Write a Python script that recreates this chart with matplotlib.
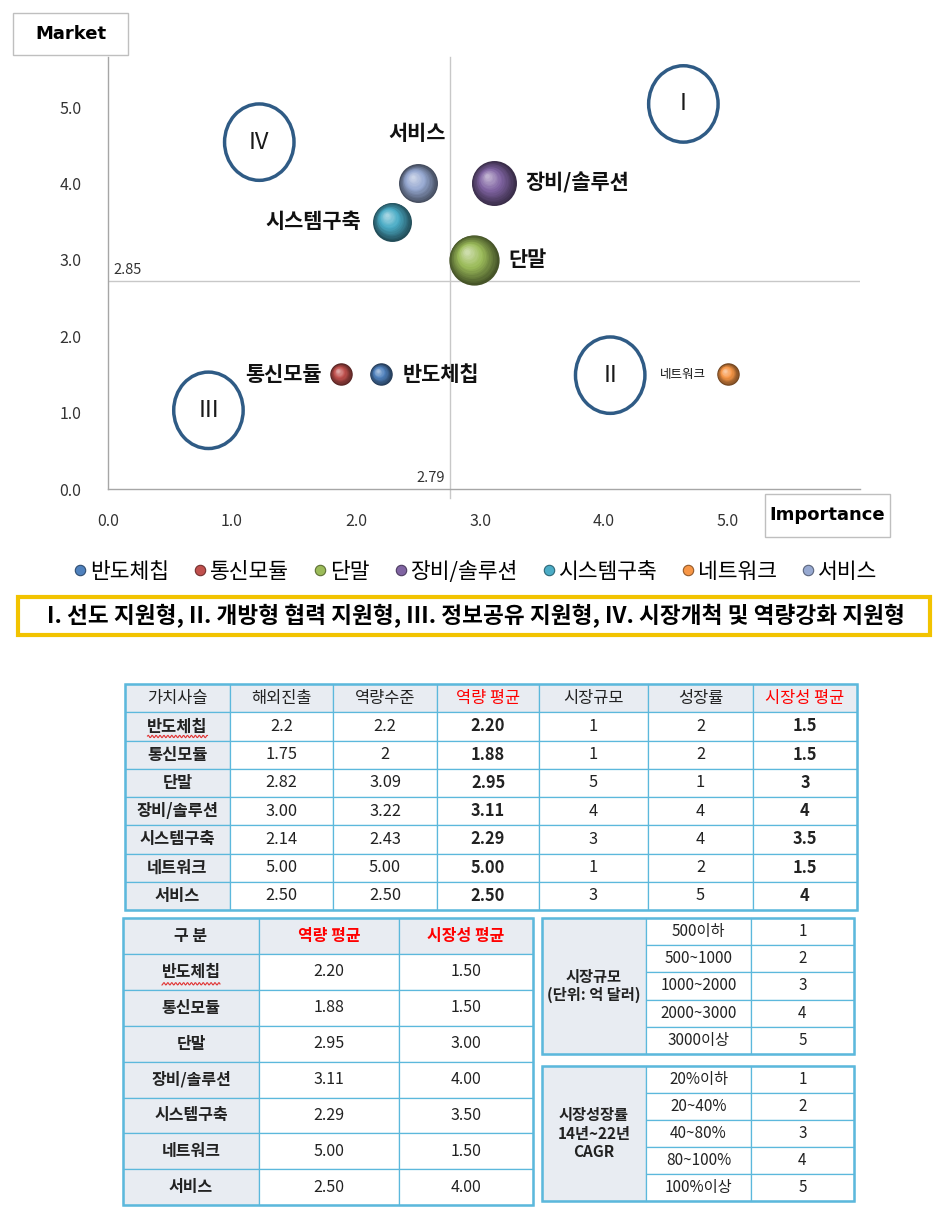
import numpy as np
import matplotlib
matplotlib.use('Agg')
import matplotlib.pyplot as plt
from matplotlib.patches import Ellipse, Rectangle
from matplotlib.lines import Line2D
from matplotlib.colors import to_rgb
from matplotlib.transforms import offset_copy

plt.rcParams['font.family'] = ['Noto Sans CJK KR', 'DejaVu Sans']

# 데이터 (표에서 읽은 값)
chains = ['반도체칩', '통신모듈', '단말', '장비/솔루션', '시스템구축', '네트워크', '서비스']
overseas = ['2.2', '1.75', '2.82', '3.00', '2.14', '5.00', '2.50']
capability = ['2.2', '2', '3.09', '3.22', '2.43', '5.00', '2.50']
cap_avg = [2.20, 1.88, 2.95, 3.11, 2.29, 5.00, 2.50]
market_size = [1, 1, 5, 4, 3, 1, 3]
growth = [2, 2, 1, 4, 4, 2, 5]
mkt_avg = [1.5, 1.5, 3, 4, 3.5, 1.5, 4]

table1_header = ['가치사슬', '해외진출', '역량수준', '역량 평균', '시장규모', '성장률', '시장성 평균']
table2_header = ['구 분', '역량 평균', '시장성 평균']

size_ranges = ['500이하', '500~1000', '1000~2000', '2000~3000', '3000이상']
growth_ranges = ['20%이하', '20~40%', '40~80%', '80~100%', '100%이상']
scores = [1, 2, 3, 4, 5]

# 사분면 구분선 (그림에서 읽은 위치와 표시값)
h_line, h_label = 2.72, '2.85'
v_line, v_label = 2.76, '2.79'

quadrants = ['I', 'II', 'III', 'IV']
quad_x = [4.64, 4.05, 0.81, 1.22]
quad_y = [5.04, 1.49, 1.03, 4.54]

colors = ['#4F81BD', '#C0504D', '#9BBB59', '#8064A2', '#4BACC6', '#F79646', '#97A9D1']

fig = plt.figure(figsize=(9.4, 12.19), dpi=100)
fig.patch.set_facecolor('white')

# 버블 차트
ax = fig.add_axes([108 / 940, 1 - 489 / 1219, 752 / 940, 432 / 1219])
ax.set_xlim(0, 752 / 124)
ax.set_ylim(0, 432 / 76.4)
for s in ['top', 'right']:
    ax.spines[s].set_visible(False)
for s in ['left', 'bottom']:
    ax.spines[s].set_color('#A6A6A6')
    ax.spines[s].set_linewidth(1)
ax.set_xticks(range(6))
ax.set_yticks(range(6))
ax.set_xticklabels(['%.1f' % v for v in range(6)])
ax.set_yticklabels(['%.1f' % v for v in range(6)])
ax.tick_params(length=0, labelsize=11.5, labelcolor='#333333')
ax.tick_params(axis='x', pad=17)
ax.tick_params(axis='y', pad=19)

ax.axhline(h_line, color='#C8C8C8', lw=1, zorder=1)
ax.axvline(v_line, ymin=-0.02, ymax=1, color='#C8C8C8', lw=1, zorder=1, clip_on=False)
ax.text(0.04, h_line + 0.06, h_label, fontsize=10.5, color='#333333', va='bottom', ha='left')
ax.text(v_line - 0.04, 0.05, v_label, fontsize=10.5, color='#333333', va='bottom', ha='right')

# 사분면 원
for q, qx, qy in zip(quadrants, quad_x, quad_y):
    ax.add_patch(Ellipse((qx, qy), 0.56, 1.0, facecolor='none', edgecolor='#2F5B85', lw=2.5, zorder=2))
    ax.text(qx, qy, q, ha='center', va='center', fontsize=17, color='#1a1a1a')


# 구 모양 버블 (그라데이션)
def sphere(ax, x, y, size, color):
    base = np.array(to_rgb(color))
    n = 16
    r_pt = np.sqrt(size) / 2
    for k in range(n):
        t = k / (n - 1)
        s = size * (1 - 0.9 * t) ** 2
        dx = -0.28 * r_pt * t
        dy = 0.32 * r_pt * t
        if t < 0.55:
            c = base * (0.45 + t)
        else:
            c = base + (1 - base) * (t - 0.55) * 1.1
        c = np.clip(c, 0, 1)
        tr = offset_copy(ax.transData, fig=ax.figure, x=dx, y=dy, units='points')
        ax.scatter([x], [y], s=s, color=[c], lw=0, transform=tr, zorder=3 + k * 0.01)


bubble_scale = 262
for i, name in enumerate(chains):
    sphere(ax, cap_avg[i], mkt_avg[i], market_size[i] * bubble_scale, colors[i])

label_pos = {
    '반도체칩': (16, 0, 'left', 'bold', 15),
    '통신모듈': (-14, 0, 'right', 'bold', 15),
    '단말': (25, 0, 'left', 'bold', 15),
    '장비/솔루션': (23, 0, 'left', 'bold', 15),
    '시스템구축': (-22, 0, 'right', 'bold', 15),
    '네트워크': (-16, 0, 'right', 'normal', 9),
    '서비스': (-1, 36, 'center', 'bold', 15),
}
for i, name in enumerate(chains):
    dx, dy, ha, fw, fs = label_pos[name]
    ax.annotate(name, (cap_avg[i], mkt_avg[i]), xytext=(dx, dy), textcoords='offset points',
                ha=ha, va='center', fontsize=fs, fontweight=fw, color='#111111', zorder=5)

# 범례
handles = [Line2D([], [], marker='o', ls='', markersize=7.5, markerfacecolor=c,
                  markeredgecolor=np.array(to_rgb(c)) * 0.6, markeredgewidth=0.8) for c in colors]
fig.legend(handles, chains, loc='center', bbox_to_anchor=(474 / 940, 1 - 572 / 1219), ncol=7,
           frameon=False, fontsize=15.5, handletextpad=0.0, columnspacing=1.0, handlelength=0.9)

# 전체 픽셀 좌표 오버레이
ov = fig.add_axes([0, 0, 1, 1])
ov.set_xlim(0, 940)
ov.set_ylim(1219, 0)
ov.axis('off')
ov.patch.set_visible(False)

# 축 제목 상자
ov.add_patch(Rectangle((13, 13), 115, 42, facecolor='white', edgecolor='#BFBFBF', lw=1))
ov.text(70.5, 34, 'Market', ha='center', va='center', fontsize=13, fontweight='bold', family='DejaVu Sans')
ov.add_patch(Rectangle((765, 494), 125, 43, facecolor='white', edgecolor='#BFBFBF', lw=1))
ov.text(827.5, 515.5, 'Importance', ha='center', va='center', fontsize=13, fontweight='bold', family='DejaVu Sans')

# 노란 상자
ov.add_patch(Rectangle((18, 597), 912, 38, facecolor='white', edgecolor='#F2C300', lw=3))
ov.text(476, 616, 'I. 선도 지원형, II. 개방형 협력 지원형, III. 정보공유 지원형, IV. 시장개척 및 역량강화 지원형',
        ha='center', va='center', fontsize=16.3, fontweight='bold')

grid_c = '#5CB8DC'
head_bg = '#E8ECF2'


def cell(x, y, w, h, text, bg='white', color='#222222', bold=False, size=10.5):
    ov.add_patch(Rectangle((x, y), w, h, facecolor=bg, edgecolor=grid_c, lw=0.9))
    if text != '':
        ov.text(x + w / 2, y + h / 2, text, ha='center', va='center', fontsize=size,
                color=color, fontweight='bold' if bold else 'normal')


def squiggle(xc, y, half):
    # 맞춤법 검사 빨간 물결선
    xs = np.linspace(xc - half, xc + half, 80)
    ov.plot(xs, y + 1.2 * np.sin(xs * 1.6), color='#E03030', lw=0.8)


# 표 1
t1_cols = [125, 230, 333, 437, 539, 648, 753, 857]
t1_top, t1_rh = 684, 28.25
for j, hd in enumerate(table1_header):
    red = hd in ('역량 평균', '시장성 평균')
    cell(t1_cols[j], t1_top, t1_cols[j + 1] - t1_cols[j], t1_rh, hd, bg=head_bg,
         color='#FF0000' if red else '#222222', size=11.8)
for i, name in enumerate(chains):
    y = t1_top + t1_rh * (i + 1)
    row = [name, overseas[i], capability[i], '%.2f' % cap_avg[i], str(market_size[i]),
           str(growth[i]), '%g' % mkt_avg[i]]
    for j, v in enumerate(row):
        bold = j in (0, 3, 6)
        cell(t1_cols[j], y, t1_cols[j + 1] - t1_cols[j], t1_rh, v,
             bg=head_bg if j == 0 else 'white', bold=bold, size=11.8)
squiggle((t1_cols[0] + t1_cols[1]) / 2, t1_top + t1_rh * 2 - 4, 30)
ov.add_patch(Rectangle((t1_cols[0], t1_top), t1_cols[-1] - t1_cols[0], t1_rh * 8,
                       facecolor='none', edgecolor=grid_c, lw=1.8))

# 표 2
t2_cols = [123, 259, 399, 533]
t2_top, t2_rh = 918, 35.9
for j, hd in enumerate(table2_header):
    cell(t2_cols[j], t2_top, t2_cols[j + 1] - t2_cols[j], t2_rh, hd, bg=head_bg,
         color='#FF0000' if j > 0 else '#222222', bold=True, size=11.5)
for i, name in enumerate(chains):
    y = t2_top + t2_rh * (i + 1)
    row = [name, '%.2f' % cap_avg[i], '%.2f' % mkt_avg[i]]
    for j, v in enumerate(row):
        cell(t2_cols[j], y, t2_cols[j + 1] - t2_cols[j], t2_rh, v,
             bg=head_bg if j == 0 else 'white', bold=(j == 0), size=11.5)
squiggle((t2_cols[0] + t2_cols[1]) / 2, t2_top + t2_rh * 2 - 6, 29)
ov.add_patch(Rectangle((t2_cols[0], t2_top), t2_cols[-1] - t2_cols[0], t2_rh * 8,
                       facecolor='none', edgecolor=grid_c, lw=1.8))

# 표 3 (기준표)
t3_cols = [542, 646, 751, 854]
for top, rh, title, ranges in [(918, 27.2, '시장규모\n(단위: 억 달러)', size_ranges),
                               (1066, 27.0, '시장성장률\n14년~22년\nCAGR', growth_ranges)]:
    cell(t3_cols[0], top, t3_cols[1] - t3_cols[0], rh * 5, title, bg=head_bg, bold=True, size=11)
    for i, (rg, sc) in enumerate(zip(ranges, scores)):
        y = top + rh * i
        cell(t3_cols[1], y, t3_cols[2] - t3_cols[1], rh, rg, size=11)
        cell(t3_cols[2], y, t3_cols[3] - t3_cols[2], rh, str(sc), size=11)
    ov.add_patch(Rectangle((t3_cols[0], top), t3_cols[-1] - t3_cols[0], rh * 5,
                           facecolor='none', edgecolor=grid_c, lw=1.8))

fig.savefig('out.png', dpi=100, facecolor='white')
